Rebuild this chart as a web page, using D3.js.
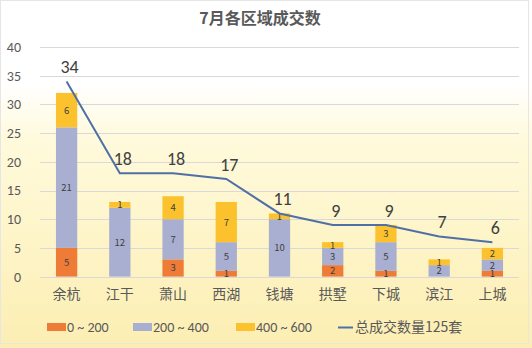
<!DOCTYPE html>
<html>
<head>
<meta charset="utf-8">
<script src="https://cdn.jsdelivr.net/npm/d3@7/dist/d3.min.js"></script>
<style>
  html, body { margin: 0; padding: 0; background: #fff; }
  svg { display: block; font-family: "Noto Sans CJK SC", "Noto Sans", sans-serif; }
</style>
</head>
<body>
<svg id="chart" width="532" height="348"></svg>
<script>
// District names and counts by price band (万元)
const districts = ["余杭", "江干", "萧山", "西湖", "钱塘", "拱墅", "下城", "滨江", "上城"];
const band0to200   = [5, 0, 3, 1, 0, 2, 1, 0, 1];
const band200to400 = [21, 12, 7, 5, 10, 3, 5, 2, 2];
const band400to600 = [6, 1, 4, 7, 1, 1, 3, 1, 2];
const totals       = [34, 18, 18, 17, 11, 9, 9, 7, 6];
const seriesNames  = ["0 ~ 200", "200 ~ 400", "400 ~ 600"];
const lineName     = "总成交数量125套";
const yTicks       = [0, 5, 10, 15, 20, 25, 30, 35, 40];
const titleText    = "7月各区域成交数";

const colors = ["#EE7B36", "#A9AFD0", "#FBC22E"];
const lineColor = "#4F70A6";

const svg = d3.select("#chart");
const W = 532, H = 348;

// Background: white top fading to pale yellow
const defs = svg.append("defs");
const grad = defs.append("linearGradient").attr("id", "bg").attr("x1", 0).attr("y1", 0).attr("x2", 0).attr("y2", 1);
grad.append("stop").attr("offset", "0%").attr("stop-color", "#FFFFFF");
grad.append("stop").attr("offset", "24%").attr("stop-color", "#FFFFFF");
grad.append("stop").attr("offset", "40%").attr("stop-color", "#FFFADC");
grad.append("stop").attr("offset", "100%").attr("stop-color", "#FCEEB2");
svg.append("rect").attr("x", 0).attr("y", 0).attr("width", W).attr("height", H).attr("fill", "url(#bg)");
svg.append("rect").attr("x", 0.5).attr("y", 0.5).attr("width", W - 4).attr("height", H - 5)
  .attr("fill", "none").attr("stroke", "#E6E6E6").attr("stroke-width", 1);

const x = d3.scaleBand().domain(districts).range([40, 519]).paddingInner(0.6).paddingOuter(0.3);
const y = d3.scaleLinear().domain([0, 40]).range([276.6, 47]);

// Title
svg.append("text").attr("x", 260).attr("y", 24).attr("text-anchor", "middle")
  .attr("font-size", 16).attr("font-weight", "bold").attr("fill", "#595959").text(titleText);

// Gridlines
svg.append("g").selectAll("line").data(yTicks).join("line")
  .attr("x1", 40).attr("x2", 519)
  .attr("y1", d => Math.round(y(d)) + 0.5).attr("y2", d => Math.round(y(d)) + 0.5)
  .attr("stroke", "#D9D9D9").attr("stroke-width", 1);

// Y axis labels
const yAxis = d3.axisLeft(y).tickValues(yTicks).tickSize(0).tickPadding(0);
const gy = svg.append("g").attr("transform", "translate(21,0)").call(yAxis);
gy.select(".domain").remove();
gy.selectAll("text").attr("font-size", 14).attr("fill", "#595959")
  .attr("font-family", "Calibri, Carlito, 'Liberation Sans', sans-serif");

// X axis labels
const xAxis = d3.axisBottom(x).tickSize(0).tickPadding(0);
const gx = svg.append("g").attr("transform", "translate(0,289)").call(xAxis);
gx.select(".domain").remove();
gx.selectAll("text").attr("font-size", 14).attr("fill", "#595959")
  .attr("font-family", "'Noto Sans CJK SC', sans-serif");

// Stacked bars
const rows = districts.map((d, i) => ({ d, s0: band0to200[i], s1: band200to400[i], s2: band400to600[i] }));
const stack = d3.stack().keys(["s0", "s1", "s2"]);
const layers = stack(rows);

const gBars = svg.append("g");
layers.forEach((layer, li) => {
  const g = gBars.append("g");
  g.selectAll("rect").data(layer).join("rect")
    .attr("x", d => x(d.data.d))
    .attr("width", x.bandwidth())
    .attr("y", d => y(d[1]))
    .attr("height", d => y(d[0]) - y(d[1]))
    .attr("fill", colors[li]);
});
// Segment value labels, drawn above all segments
layers.forEach(layer => {
  gBars.append("g").selectAll("text").data(layer.filter(d => d[1] - d[0] > 0)).join("text")
    .attr("x", d => x(d.data.d) + x.bandwidth() / 2)
    .attr("y", d => (y(d[0]) + y(d[1])) / 2 + 3.5)
    .attr("text-anchor", "middle")
    .attr("font-size", 9.5)
    .attr("fill", "#404040")
    .text(d => d[1] - d[0]);
});

// Total line
const cx = d => x(d) + x.bandwidth() / 2;
const line = d3.line().x((d, i) => cx(districts[i])).y(d => y(d));
svg.append("path").datum(totals).attr("d", line)
  .attr("fill", "none").attr("stroke", lineColor).attr("stroke-width", 2);

svg.append("g").selectAll("text").data(totals).join("text")
  .attr("x", (d, i) => cx(districts[i]) + 3)
  .attr("y", d => y(d) - 8)
  .attr("text-anchor", "middle")
  .attr("font-size", 18)
  .attr("fill", "#404040")
  .attr("font-family", "Calibri, Carlito, 'Liberation Sans', sans-serif")
  .text(d => d);

// Legend
const legend = svg.append("g").attr("font-size", 14).attr("fill", "#595959");
const legendX = [47, 133, 236];
seriesNames.forEach((name, i) => {
  legend.append("rect").attr("x", legendX[i]).attr("y", 323).attr("width", 19).attr("height", 8).attr("fill", colors[i]);
  legend.append("text").attr("x", legendX[i] + 20).attr("y", 332)
    .attr("font-family", "Calibri, Carlito, 'Liberation Sans', sans-serif")
    .attr("fill", "#595959").text(name);
});
legend.append("line").attr("x1", 338).attr("x2", 353).attr("y1", 327.5).attr("y2", 327.5)
  .attr("stroke", lineColor).attr("stroke-width", 2);
legend.append("text").attr("x", 355).attr("y", 332).attr("fill", "#595959")
  .attr("font-family", "'Noto Sans CJK SC', sans-serif").text(lineName);
</script>
</body>
</html>
